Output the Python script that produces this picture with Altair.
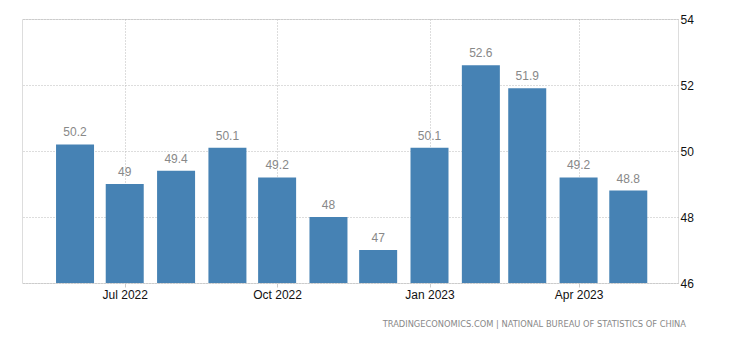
import altair as alt
import pandas as pd

months = ["2022-06-01", "2022-07-01", "2022-08-01", "2022-09-01", "2022-10-01", "2022-11-01",
          "2022-12-01", "2023-01-01", "2023-02-01", "2023-03-01", "2023-04-01", "2023-05-01"]
values = [50.2, 49, 49.4, 50.1, 49.2, 48, 47, 50.1, 52.6, 51.9, 49.2, 48.8]
labels = ["50.2", "49", "49.4", "50.1", "49.2", "48", "47", "50.1", "52.6", "51.9", "49.2", "48.8"]
y_ticks = [46, 48, 50, 52, 54]
source = "TRADINGECONOMICS.COM | NATIONAL BUREAU OF STATISTICS OF CHINA"

df = pd.DataFrame({"date": months, "value": values, "label": labels})

FONT = "Liberation Sans"

xscale = alt.Scale(type="utc", domain=["2022-05-03", "2023-05-28"])
yscale = alt.Scale(domain=[46, 54], nice=False, zero=False)

x_axis = alt.Axis(
    values=[alt.DateTime(year=2022, month=7, date=1, utc=True),
            alt.DateTime(year=2022, month=10, date=1, utc=True),
            alt.DateTime(year=2023, month=1, date=1, utc=True),
            alt.DateTime(year=2023, month=4, date=1, utc=True)],
    labelExpr="utcFormat(datum.value, '%b %Y')",
    title=None, domain=False, ticks=True, tickSize=4, tickColor="#cccccc",
    labelFont=FONT, labelFontSize=12, labelColor="#111111", labelPadding=2,
    grid=True, gridColor="#bbbbbb", gridDash=[1, 2], gridWidth=1,
)
y_axis = alt.Axis(
    orient="right", values=y_ticks, title=None, domain=False, ticks=False,
    labelFont=FONT, labelFontSize=12, labelColor="#111111", labelPadding=2,
    grid=True, gridColor="#bbbbbb", gridDash=[1, 2], gridWidth=1,
)

bars = alt.Chart(df).mark_bar(size=38, color="#4682b4", clip=True).encode(
    x=alt.X("date:T", scale=xscale, axis=x_axis),
    y=alt.Y("value:Q", scale=yscale, axis=y_axis),
    y2=alt.datum(46),
)

text = alt.Chart(df).mark_text(
    font=FONT, fontSize=12, color="#888888", baseline="alphabetic", dy=-8
).encode(
    x=alt.X("date:T", scale=xscale),
    y=alt.Y("value:Q", scale=yscale),
    text="label:N",
)

src = alt.Chart(pd.DataFrame({"t": [source]})).mark_text(
    font="DejaVu Sans", fontSize=8.3, color="#888888", align="right", baseline="middle"
).encode(
    x=alt.value(664), y=alt.value(306), text="t:N"
)

chart = alt.layer(bars, text, src).properties(
    width=656, height=264,
    autosize=alt.AutoSizeParams(type="none"),
    padding={"left": 22, "top": 19, "right": 52, "bottom": 57},
).configure_view(stroke=None).configure(background="white")

chart.save("out.html", embed_options={"renderer": "svg", "actions": False})
